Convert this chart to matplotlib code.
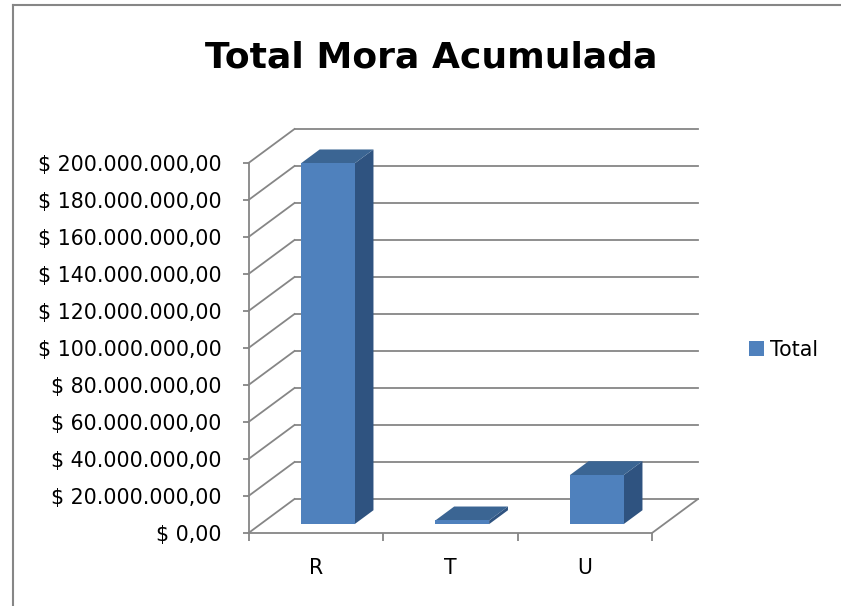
import matplotlib
matplotlib.use('Agg')
import matplotlib.pyplot as plt
from matplotlib.patches import Polygon, Patch
from matplotlib.lines import Line2D

# ---- data ----
categories = ['R', 'T', 'U']
totals = [195_000_000, 2_000_000, 26_500_000]
y_ticks = [0, 20e6, 40e6, 60e6, 80e6, 100e6, 120e6, 140e6, 160e6, 180e6, 200e6]
y_tick_labels = ['$ 0,00', '$ 20.000.000,00', '$ 40.000.000,00', '$ 60.000.000,00',
                 '$ 80.000.000,00', '$ 100.000.000,00', '$ 120.000.000,00',
                 '$ 140.000.000,00', '$ 160.000.000,00', '$ 180.000.000,00',
                 '$ 200.000.000,00']
title = 'Total Mora Acumulada'
series_name = 'Total'

# ---- style ----
W, H = 841, 606
FRONT = '#4F81BD'
TOP = '#3B6593'
SIDE = '#2F5380'
GRID = '#868686'
FONT = 'DejaVu Sans'
FS = 14.8

fig = plt.figure(figsize=(W / 100, H / 100), dpi=100)
fig.patch.set_facecolor('white')

ax_left, ax_right, ax_bottom, ax_top = 248.5, 652, 533, 163
ax = fig.add_axes([ax_left / W, 1 - ax_bottom / H, (ax_right - ax_left) / W, (ax_bottom - ax_top) / H])
ax.set_xlim(0, len(categories))
ax.set_ylim(0, y_ticks[-1])
ax.patch.set_alpha(0)

# pixel -> data conversion for oblique depth
px_x = (ax_right - ax_left) / len(categories)
px_y = (ax_bottom - ax_top) / y_ticks[-1]
Dx, Dy = 46 / px_x, 34 / px_y


def P(x, y, d):
    return (x + d * Dx, y + d * Dy)


# back wall gridlines and left wall diagonals
for v in y_ticks:
    ax.add_line(Line2D(*zip(P(0, v, 1), P(len(categories), v, 1)), color=GRID, lw=1.3, clip_on=False, zorder=1))
    ax.add_line(Line2D(*zip(P(0, v, 0), P(0, v, 1)), color=GRID, lw=1.3, clip_on=False, zorder=1))
# floor right edge
ax.add_line(Line2D(*zip(P(len(categories), 0, 0), P(len(categories), 0, 1)), color=GRID, lw=1.3, clip_on=False, zorder=1))

# bars
bw = 0.40
f, b = 0.26, 0.67
for i, v in enumerate(totals):
    x0, x1 = i + 0.5 - bw / 2, i + 0.5 + bw / 2
    side = [P(x1, 0, f), P(x1, 0, b), P(x1, v, b), P(x1, v, f)]
    top = [P(x0, v, f), P(x1, v, f), P(x1, v, b), P(x0, v, b)]
    front = [P(x0, 0, f), P(x1, 0, f), P(x1, v, f), P(x0, v, f)]
    ax.add_patch(Polygon(side, closed=True, facecolor=SIDE, edgecolor='none', clip_on=False, zorder=3))
    ax.add_patch(Polygon(top, closed=True, facecolor=TOP, edgecolor='none', clip_on=False, zorder=3))
    ax.add_patch(Polygon(front, closed=True, facecolor=FRONT, edgecolor='none', clip_on=False, zorder=4))

# axes spines and ticks
for s in ['top', 'right']:
    ax.spines[s].set_visible(False)
for s in ['left', 'bottom']:
    ax.spines[s].set_color(GRID)
    ax.spines[s].set_linewidth(1.3)
    ax.spines[s].set_zorder(5)

ax.set_yticks(y_ticks)
ax.set_yticklabels(y_tick_labels, fontsize=FS, family=FONT)
ax.tick_params(axis='y', length=4.3, width=1.3, color=GRID, pad=15)
ax.set_xticks(range(len(categories) + 1))
ax.set_xticklabels([''] * (len(categories) + 1))
ax.tick_params(axis='x', which='major', length=5.8, width=1.3, color=GRID)
ax.set_xticks([i + 0.5 for i in range(len(categories))], minor=True)
ax.set_xticklabels(categories, minor=True, fontsize=FS, family=FONT)
ax.tick_params(axis='x', which='minor', length=0, pad=18)

# title
fig.text(431 / W, 1 - 57 / H, title, ha='center', va='center', fontsize=26, fontweight='bold', family=FONT)

# legend
fig.legend(handles=[Patch(facecolor=FRONT, edgecolor='none', label=series_name)],
           loc='center left', bbox_to_anchor=(749 / W, 1 - 349.5 / H),
           frameon=False, borderpad=0, borderaxespad=0,
           handlelength=0.72, handleheight=0.72, handletextpad=0.3,
           prop={'family': FONT, 'size': FS})

# chart area border (left and top visible)
fig.add_artist(Line2D([13 / W, 13 / W], [0, 1 - 5 / H], color=GRID, lw=1.5))
fig.add_artist(Line2D([13 / W, 1], [1 - 5 / H, 1 - 5 / H], color=GRID, lw=1.5))

fig.savefig('out.png', dpi=100, facecolor='white')
